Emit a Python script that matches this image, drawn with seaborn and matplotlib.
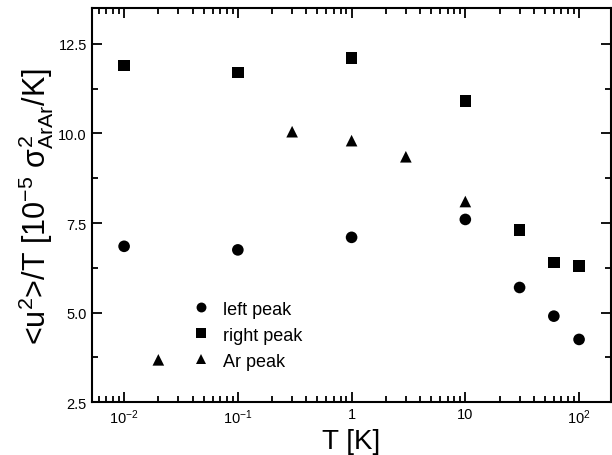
import matplotlib

matplotlib.use("Agg")
import matplotlib.pyplot as plt
import matplotlib.ticker as mticker
import pandas as pd
import seaborn as sns

# values
T_LEFT = [0.01, 0.1, 1, 10, 30, 60, 100]
LEFT_PEAK = [6.85, 6.75, 7.1, 7.6, 5.7, 4.9, 4.25]

T_RIGHT = [0.01, 0.1, 1, 10, 30, 60, 100]
RIGHT_PEAK = [11.9, 11.7, 12.1, 10.9, 7.3, 6.4, 6.3]

T_AR = [0.02, 0.3, 1, 3, 10]
AR_PEAK = [3.68, 10.05, 9.8, 9.35, 8.1]

SERIES = ["left peak", "right peak", "Ar peak"]


def build_frame() -> pd.DataFrame:
    parts = [
        pd.DataFrame({"T": T_LEFT, "val": LEFT_PEAK, "series": SERIES[0]}),
        pd.DataFrame({"T": T_RIGHT, "val": RIGHT_PEAK, "series": SERIES[1]}),
        pd.DataFrame({"T": T_AR, "val": AR_PEAK, "series": SERIES[2]}),
    ]
    return pd.concat(parts, ignore_index=True)


def main() -> None:
    sns.set_theme(style="ticks")
    plt.rcParams["font.family"] = ["Liberation Sans", "DejaVu Sans"]
    plt.rcParams["mathtext.fontset"] = "custom"
    plt.rcParams["mathtext.rm"] = "Liberation Sans"
    plt.rcParams["mathtext.it"] = "Liberation Sans"
    plt.rcParams["text.color"] = "black"
    plt.rcParams["axes.labelcolor"] = "black"

    df = build_frame()

    fig = plt.figure(figsize=(6.12, 4.56), dpi=100)
    ax = fig.add_axes([0.150, 0.116, 0.848, 0.864])

    sns.scatterplot(
        data=df,
        x="T",
        y="val",
        style="series",
        style_order=SERIES,
        markers={"left peak": "o", "right peak": "s", "Ar peak": "^"},
        color="black",
        s=70,
        edgecolor="black",
        linewidth=0,
        ax=ax,
    )

    ax.set_xscale("log")
    ax.set_xlim(0.0052, 190)
    ax.set_ylim(2.5, 13.5)

    ax.yaxis.set_major_locator(mticker.FixedLocator([2.5, 5.0, 7.5, 10.0, 12.5]))
    ax.yaxis.set_minor_locator(mticker.MultipleLocator(1.25))
    ax.yaxis.set_major_formatter(mticker.FormatStrFormatter("%.1f"))
    ax.xaxis.set_major_locator(mticker.FixedLocator([0.01, 0.1, 1, 10, 100]))
    ax.xaxis.set_major_formatter(
        mticker.FixedFormatter([r"$10^{-2}$", r"$10^{-1}$", "1", "10", r"$10^{2}$"])
    )
    ax.xaxis.set_minor_locator(mticker.LogLocator(base=10, subs=range(2, 10), numticks=20))
    ax.xaxis.set_minor_formatter(mticker.NullFormatter())

    ax.tick_params(which="both", direction="in", top=True, right=True,
                   labelsize=10.5, width=1.3, colors="black")
    ax.tick_params(which="major", length=7)
    ax.tick_params(which="minor", length=4)
    for spine in ax.spines.values():
        spine.set_linewidth(1.5)
        spine.set_color("black")

    ax.set_xlabel("T [K]", fontsize=20, labelpad=2)
    ax.set_ylabel(r"<u$^2$>/T [10$^{-5}$ $\sigma^2_{ArAr}$/K]", fontsize=22, labelpad=2)

    leg = ax.legend(
        loc="center left",
        bbox_to_anchor=(0.145, 0.17),
        frameon=False,
        fontsize=13,
        handletextpad=0.2,
        labelspacing=0.5,
        markerscale=0.85,
        title=None,
    )
    for txt in leg.get_texts():
        txt.set_color("black")

    fig.savefig("out.png", dpi=100)
    plt.close(fig)


if __name__ == "__main__":
    main()
